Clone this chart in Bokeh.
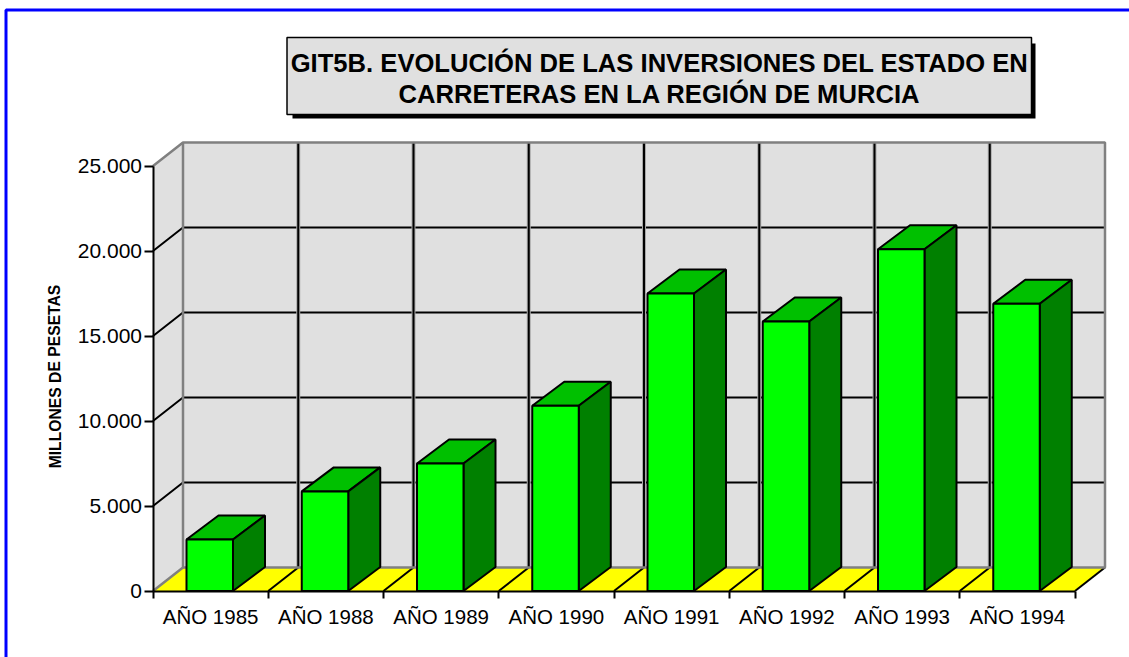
from bokeh.plotting import figure
from bokeh.models import Range1d, LinearAxis, FixedTicker
from bokeh.core.properties import value
from bokeh.embed import file_html
from bokeh.resources import INLINE

categories = ["AÑO 1985", "AÑO 1988", "AÑO 1989", "AÑO 1990", "AÑO 1991", "AÑO 1992", "AÑO 1993", "AÑO 1994"]
inversiones = [3030, 5860, 7500, 10900, 17500, 15850, 20100, 16900]
y_ticks = [0, 5000, 10000, 15000, 20000, 25000]
y_tick_labels = ["0", "5.000", "10.000", "15.000", "20.000", "25.000"]
title_lines = ["GIT5B. EVOLUCIÓN DE LAS INVERSIONES DEL ESTADO EN", "CARRETERAS EN LA REGIÓN DE MURCIA"]
y_title = "MILLONES DE PESETAS"

W, H = 1129, 657
X0, STEP = 152.5, 115.25
Y0, PX_PER = 590.5, (590.5 - 165.5) / 25000

def sx(px):
    return (px - X0) / STEP
def sy(px):
    return (Y0 - px) / PX_PER

FONT = value("Liberation Sans")
p = figure(width=W, height=H, output_backend="svg", toolbar_location=None,
           x_range=Range1d(sx(0), sx(W)), y_range=Range1d(sy(H), sy(0)),
           x_axis_type=None, y_axis_type=None, min_border=0,
           outline_line_color=None, background_fill_color="white", border_fill_color="white")
p.grid.visible = False

n = len(categories)
top = y_ticks[-1]
wx, wy = 30 / STEP, 23.5 / PX_PER   # wall depth in data units
GREY, WALL, BLACK = "#808080", "#e0e0e0", "#000000"

# walls and floor
p.patch([wx, n + wx, n + wx, wx], [wy, wy, top + wy, top + wy], fill_color=WALL, line_color=None)
p.patch([0, wx, wx, 0], [0, wy, top + wy, top], fill_color=WALL, line_color=None)
p.patch([0, n, n + wx, wx], [0, 0, wy, wy], fill_color="#ffff00", line_color=None)

# grid lines
for t in y_ticks[1:-1]:
    p.line([0, wx, n + wx], [t, t + wy, t + wy], line_color=BLACK, line_width=2)
for i in range(1, n):
    p.line([i + wx] * 2, [wy, top + wy], line_color="#a8a8a8", line_width=4)
    p.line([i, i + wx, i + wx], [0, wy, top + wy], line_color=BLACK, line_width=2)
p.line([n, n + wx], [0, wy], line_color=BLACK, line_width=2)
# wall edges
p.line([0, wx, wx], [0, wy, top + wy], line_color=GREY, line_width=2.5)
p.line([0, wx, n + wx, n + wx, wx], [top, top + wy, top + wy, wy, wy], line_color=GREY, line_width=2.5)

# bars
bw, bx, by = 46.5 / STEP, 32 / STEP, 24 / PX_PER
for i, v in enumerate(inversiones):
    l = i + 33.5 / STEP
    r = l + bw
    p.patch([l, r, r + bx, l + bx], [v, v, v + by, v + by], fill_color="#00c000", line_color=BLACK, line_width=2)
    p.patch([r, r + bx, r + bx, r], [0, by, v + by, v], fill_color="#008000", line_color=BLACK, line_width=2)
    p.patch([l, r, r, l], [0, 0, v, v], fill_color="#00ff00", line_color=BLACK, line_width=2)

# axes
def style_axis(ax, size="20.5px"):
    ax.major_label_text_font = "Liberation Sans"
    ax.major_label_text_font_size = size
    ax.major_label_text_color = BLACK
    ax.minor_tick_line_color = None
    ax.axis_line_color = BLACK
    ax.axis_line_width = 2
    ax.major_tick_line_color = BLACK
    ax.major_tick_line_width = 2
    ax.major_tick_in = 0

ya = LinearAxis(fixed_location=0, ticker=FixedTicker(ticks=y_ticks), bounds=(0, top),
                major_label_overrides=dict(zip(y_ticks, y_tick_labels)))
style_axis(ya, "21px")
ya.major_tick_out = 9
ya.major_label_standoff = 2
p.add_layout(ya, "left")

xa = LinearAxis(fixed_location=0, ticker=FixedTicker(ticks=list(range(n + 1))), bounds=(0, n))
style_axis(xa)
xa.major_tick_out = 7
xa.major_label_text_color = None
p.add_layout(xa, "below")

centers = [i + 0.5 for i in range(n)]
xl = LinearAxis(fixed_location=0, ticker=FixedTicker(ticks=centers), bounds=(0, n),
                major_label_overrides=dict(zip(centers, categories)))
style_axis(xl)
xl.axis_line_color = None
xl.major_tick_line_color = None
xl.major_tick_out = 0
xl.major_label_standoff = 14
p.add_layout(xl, "below")

# y axis title
p.text([sx(54.5)], [sy(376)], text=[y_title], angle=1.5708, text_font=FONT, text_font_style="bold",
       text_font_size="15.7px", text_align="center", text_baseline="middle", text_color=BLACK)

# title box
p.quad(left=[sx(292)], right=[sx(1035)], bottom=[sy(118)], top=[sy(43)], fill_color=BLACK, line_color=None)
p.quad(left=[sx(286.5)], right=[sx(1031)], bottom=[sy(114)], top=[sy(37)], fill_color=WALL, line_color=BLACK, line_width=1.5)
for t, yy in zip(title_lines, (62, 93)):
    p.text([sx(659)], [sy(yy)], text=[t], text_font=FONT, text_font_style="bold", text_font_size="25.6px",
           text_align="center", text_baseline="middle", text_color=BLACK)

# page frame
p.line([sx(5.5), sx(5.5), sx(W)], [sy(H), sy(9.5), sy(9.5)], line_color="#0000ff", line_width=3)

open("out.html", "w").write(file_html(p, INLINE))
